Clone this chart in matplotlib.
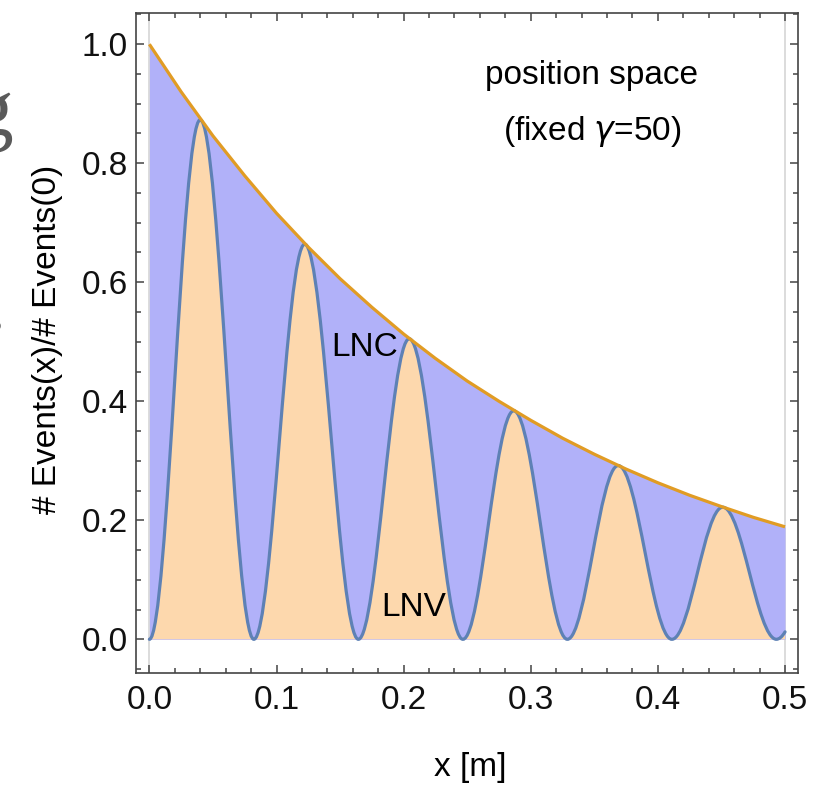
import numpy as np
import matplotlib
matplotlib.use('Agg')
import matplotlib.pyplot as plt
from matplotlib.path import Path
from matplotlib.patches import PathPatch
from matplotlib.ticker import MultipleLocator, FormatStrFormatter

plt.rcParams['font.family'] = ['Liberation Sans', 'DejaVu Sans']

# envelope (LNC + LNV)
env_x = [0.000, 0.025, 0.050, 0.075, 0.100, 0.125, 0.150, 0.175, 0.200, 0.225, 0.250,
         0.275, 0.300, 0.325, 0.350, 0.375, 0.400, 0.425, 0.450, 0.475, 0.500]
env_y = [1.000, 0.920, 0.846, 0.779, 0.716, 0.659, 0.606, 0.558, 0.513, 0.472, 0.434,
         0.400, 0.368, 0.338, 0.311, 0.286, 0.263, 0.242, 0.223, 0.205, 0.189]

# LNV curve: zeros and peaks of the blue oscillation
zero_x = [0.0, 0.0822, 0.1644, 0.2466, 0.3288, 0.4110, 0.4932]
peak_x = [0.0400, 0.1222, 0.2044, 0.2866, 0.3688, 0.4510]
peak_y = [0.873, 0.664, 0.505, 0.384, 0.292, 0.222]
end_x, end_y = 0.5, 0.0125

blue_line = '#5e81b5'
orange_line = '#e19c24'
blue_fill = '#b1b1f9'
orange_fill = '#fdd8ad'

fig = plt.figure(figsize=(8.35, 7.86), dpi=100)
ax = fig.add_axes([0.1629, 0.1438, 0.7928, 0.8393])

# LNV curve as smooth bezier lobes between the zeros and peaks
k = 0.364
verts = [(zero_x[0], 0.0)]
codes = [Path.MOVETO]
for i in range(len(peak_x)):
    x0, xp, x1 = zero_x[i], peak_x[i], zero_x[i + 1]
    yp = peak_y[i]
    verts += [(x0 + k * (xp - x0), 0.0), (xp - k * (xp - x0), yp), (xp, yp)]
    verts += [(xp + k * (x1 - xp), yp), (x1 - k * (x1 - xp), 0.0), (x1, 0.0)]
    codes += [Path.CURVE4] * 6
verts += [((zero_x[-1] + end_x) / 2, 0.0), (end_x, end_y)]
codes += [Path.CURVE3] * 2

fill_verts = verts + [(end_x, 0.0), (zero_x[0], 0.0), (zero_x[0], 0.0)]
fill_codes = codes + [Path.LINETO, Path.LINETO, Path.CLOSEPOLY]

# light axis lines at x=0 and x=0.5
ax.axvline(0.0, color='#d6d6d6', lw=1.2, zorder=0)
ax.axvline(0.5, color='#d6d6d6', lw=1.2, zorder=0)

# LNC region (between curves) and LNV region (under blue curve)
ax.fill_between(env_x, 0, env_y, color=blue_fill, lw=0, zorder=1)
ax.add_patch(PathPatch(Path(fill_verts, fill_codes), facecolor=orange_fill,
                       edgecolor='none', zorder=2))
ax.add_patch(PathPatch(Path(verts, codes), facecolor='none', edgecolor=blue_line,
                       lw=2.3, zorder=3, capstyle='round'))
ax.plot(env_x, env_y, color=orange_line, lw=2.3, zorder=4, solid_capstyle='butt')

ax.set_xlim(-0.0105, 0.5102)
ax.set_ylim(-0.0566, 1.052)

ax.xaxis.set_major_locator(MultipleLocator(0.1))
ax.xaxis.set_minor_locator(MultipleLocator(0.02))
ax.yaxis.set_major_locator(MultipleLocator(0.2))
ax.yaxis.set_minor_locator(MultipleLocator(0.05))
ax.xaxis.set_major_formatter(FormatStrFormatter('%.1f'))
ax.yaxis.set_major_formatter(FormatStrFormatter('%.1f'))

ax.tick_params(which='both', direction='in', top=True, right=True,
               color='#444444', width=1.1, labelsize=24, labelcolor='#111111')
ax.tick_params(which='major', length=6)
ax.tick_params(which='minor', length=3.6)
ax.tick_params(axis='x', pad=9)
ax.tick_params(axis='y', pad=6)
for s in ax.spines.values():
    s.set_color('#444444')
    s.set_linewidth(1.2)

# annotations
ax.text(0.348, 0.947, 'position space', fontsize=24, ha='center', va='center')
ax.text(0.348, 0.853, r'(fixed $\gamma$=50)', fontsize=24, ha='center', va='center')
ax.text(0.169, 0.49, 'LNC', fontsize=24, ha='center', va='center')
ax.text(0.208, 0.053, 'LNV', fontsize=24, ha='center', va='center')

ax.set_xlabel('x [m]', fontsize=24, va='center')
ax.xaxis.set_label_coords(0.5045, -0.144)
ax.set_ylabel('# Events(x)/# Events(0)', fontsize=24, va='center')
ax.yaxis.set_label_coords(-0.134, 0.505)

# cut-off glyphs at the left edge of the screenshot
fig.text(13 / 835, 1 - 135 / 786, 'g', fontsize=60, family='Liberation Serif',
         color='#5a5a5a', ha='right', va='baseline')
fig.text(9 / 835, 1 - 330 / 786, '!', fontsize=60, family='Liberation Serif',
         color='#5a5a5a', ha='right', va='baseline')

fig.savefig('out.png', dpi=100)
